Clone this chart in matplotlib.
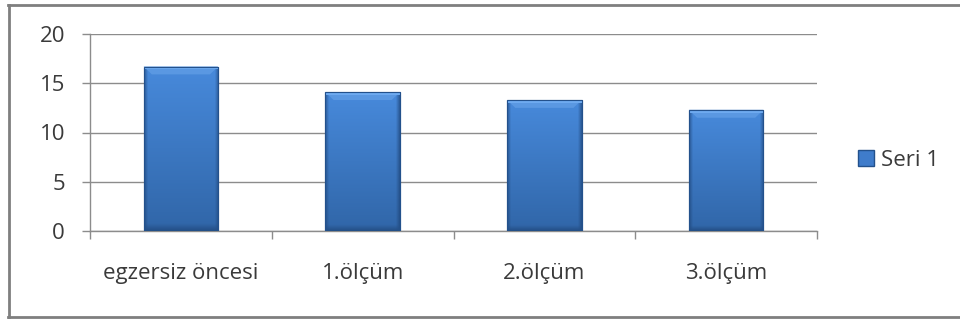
import matplotlib
matplotlib.use("Agg")
import matplotlib.pyplot as plt
import numpy as np
from matplotlib.lines import Line2D
from matplotlib.patches import Polygon, Rectangle

KATEGORILER = ["egzersiz öncesi", "1.ölçüm", "2.ölçüm", "3.ölçüm"]
SERI_1 = [16.7, 14.1, 13.3, 12.3]
Y_TICKS = [0, 5, 10, 15, 20]

plt.rcParams["font.family"] = ["Open Sans", "DejaVu Sans"]

GRID = "#8c8c8c"
TEXT = "#3a3a3a"
MAVI = "#3f7ccb"
KOYU = "#23518c"

fig = plt.figure(figsize=(9.6, 3.21), dpi=100)
ax = fig.add_axes([90 / 960, 1 - 231 / 321, (817 - 90) / 960, (231 - 34) / 321])

x = np.arange(len(KATEGORILER))
barlar = ax.bar(x, SERI_1, width=0.41, color=MAVI, edgecolor=KOYU,
                linewidth=0.8, zorder=3)

# Excel 2007 tarzi bevel: dikey gradyan + koyu kenarlar, bar icine kirpilmis
nx, ny = 80, 80
u = np.linspace(0, 1, nx)
v = np.linspace(0, 1, ny)
kenar = np.clip(np.minimum(u, 1 - u) / 0.05, 0, 1)[None, :]
alt = np.clip(v / 0.04, 0, 1)[:, None]
dikey = v[:, None]  # 0 altta, 1 ustte
ust_renk = np.array([0.28, 0.54, 0.86])
alt_renk = np.array([0.19, 0.40, 0.66])
govde = alt_renk + (ust_renk - alt_renk) * dikey[..., None]
koyu = np.array([0.12, 0.27, 0.47])
k = (kenar * alt)[..., None]
img = koyu + (govde - koyu) * (0.35 + 0.65 * k)
for b in barlar:
    x0, y0, w, h = b.get_x(), b.get_y(), b.get_width(), b.get_height()
    im = ax.imshow(img, origin="lower", extent=[x0, x0 + w, y0, y0 + h],
                   aspect="auto", zorder=3.5, interpolation="bilinear")
    im.set_clip_path(b)
    # ust bevel
    d = w * 0.11
    dy = 0.8
    ust = Polygon([[x0, y0 + h], [x0 + w, y0 + h], [x0 + w - d, y0 + h - dy],
                   [x0 + d, y0 + h - dy]], closed=True,
                  facecolor="#5a98e2", edgecolor="none", zorder=3.6)
    ax.add_patch(ust)
    serit = Rectangle((x0, y0 + h - 0.3), w, 0.3, facecolor="#6eaaf0",
                      edgecolor="none", zorder=3.65)
    ax.add_patch(serit)
    cerceve = Rectangle((x0, y0), w, h, facecolor="none",
                        edgecolor=KOYU, linewidth=0.8, zorder=3.7)
    ax.add_patch(cerceve)

ax.set_xlim(-0.5, len(KATEGORILER) - 0.5)
ax.set_ylim(0, 20)
ax.set_yticks(Y_TICKS)
ax.yaxis.grid(True, color=GRID, linewidth=1, zorder=0)
ax.set_axisbelow(True)

ax.set_xticks(x)
ax.set_xticklabels(KATEGORILER)
ax.set_xticks(np.arange(len(KATEGORILER) + 1) - 0.5, minor=True)
ax.tick_params(axis="x", which="major", length=0, pad=23,
               labelsize=16, labelcolor=TEXT)
ax.tick_params(axis="x", which="minor", length=6, width=1, color=GRID,
               direction="out")
ax.tick_params(axis="y", length=6, width=1, color=GRID, pad=12,
               labelsize=16, labelcolor=TEXT)

for s in ["top", "right"]:
    ax.spines[s].set_visible(False)
for s in ["left", "bottom"]:
    ax.spines[s].set_color(GRID)
    ax.spines[s].set_linewidth(1)

# legend
tutamac = Rectangle((0, 0), 1, 1, facecolor=MAVI, edgecolor=KOYU)
fig.legend([tutamac], ["Seri 1"], loc="center left",
           bbox_to_anchor=(838 / 960, 1 - 160 / 321), frameon=False,
           fontsize=16, handlelength=0.7, handleheight=0.7,
           handletextpad=0.35, labelcolor=TEXT)

# dis cerceve
cer = "#7f7f7f"
fig.add_artist(Line2D([8 / 960, 1], [1 - 4.5 / 321] * 2, color=cer, lw=2))
fig.add_artist(Line2D([8 / 960, 1], [1 - 316.5 / 321] * 2, color=cer, lw=2))
fig.add_artist(Line2D([8.5 / 960] * 2, [1 - 4.5 / 321, 1 - 316.5 / 321],
                      color=cer, lw=2))

fig.savefig("out.png", dpi=100)
